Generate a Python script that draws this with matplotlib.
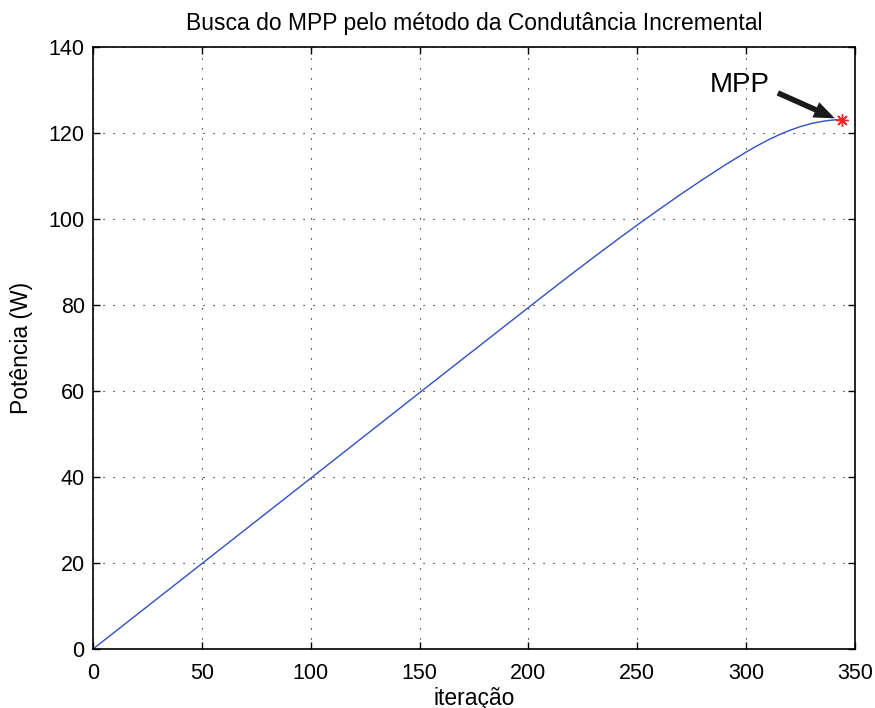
import numpy as np
import matplotlib.pyplot as plt

plt.rcParams['font.family'] = ['Liberation Sans', 'DejaVu Sans']

iteracao = [0, 50, 100, 150, 200, 210, 220, 230, 240, 250, 260, 270, 280,
            290, 300, 305, 310, 315, 320, 325, 330, 335, 338, 341, 344]
potencia = [0, 19.85, 39.7, 59.6, 79.4, 83.35, 87.25, 91.1, 94.88, 98.6,
            102.2, 105.75, 109.15, 112.45, 115.55, 117.0, 118.35, 119.55,
            120.6, 121.5, 122.2, 122.7, 122.92, 123.06, 123.12]

mpp_iter = 344
mpp_pot = 123.12

x_ticks = [0, 50, 100, 150, 200, 250, 300, 350]
y_ticks = [0, 20, 40, 60, 80, 100, 120, 140]

fig = plt.figure(figsize=(8.75, 7.08), dpi=100)
ax = fig.add_axes([0.1063, 0.0833, 0.8707, 0.8503])

ax.plot(iteracao, potencia, color='#3050c0', lw=1.0)
ax.plot(mpp_iter, mpp_pot, marker=(8, 2, 0), color='#ff2020', ms=9,
        mew=1.0, ls='none')

# seta grossa apontando o MPP
ax.annotate('', xy=(mpp_iter - 3.2, mpp_pot + 0.3),
            xytext=(mpp_iter - 29.4, mpp_pot + 6.2),
            arrowprops=dict(arrowstyle='simple,head_length=0.75,head_width=0.6,tail_width=0.2',
                            fc='#1a1a1a', ec='none', mutation_scale=20,
                            shrinkA=0, shrinkB=0))
ax.text(297.2, 129.6, 'MPP', fontsize=20, ha='center', va='baseline')

ax.set_xlim(0, 350)
ax.set_ylim(0, 140)
ax.set_xticks(x_ticks)
ax.set_yticks(y_ticks)
ax.tick_params(direction='in', length=5, width=1, labelsize=15.5,
               top=True, right=True, colors='black')
ax.tick_params(axis='x', pad=10)
ax.tick_params(axis='y', pad=6)
for s in ax.spines.values():
    s.set_linewidth(1.2)

ax.grid(True, color='black', ls=(0, (1, 8)), lw=0.8)

ax.set_title('Busca do MPP pelo método da Condutância Incremental',
             fontsize=16.5, pad=12)
ax.set_xlabel('iteração', fontsize=16.5, labelpad=2)
ax.set_ylabel('Potência (W)', fontsize=16.5, labelpad=11)

fig.savefig('out.png', dpi=100)
